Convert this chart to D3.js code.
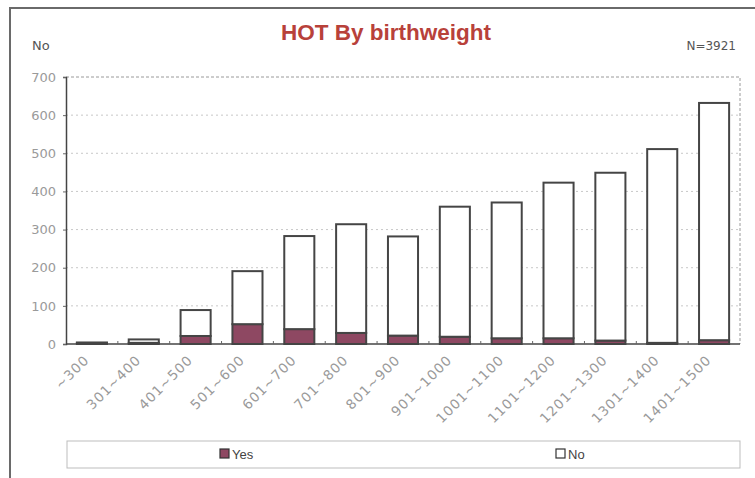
<!DOCTYPE html>
<html><head><meta charset="utf-8">
<script src="https://cdn.jsdelivr.net/npm/d3@7"></script>
<style>body{margin:0;background:#fff}svg{display:block}</style>
</head><body>
<svg id="c" width="755" height="478"></svg>
<script>
const categories = ["~300","301~400","401~500","501~600","601~700","701~800","801~900","901~1000","1001~1100","1101~1200","1201~1300","1301~1400","1401~1500"];
const yesValues = [2,3,21,52,39,29,22,19,15,15,9,3,10];
const noValues  = [2,9,68,139,244,285,260,341,356,408,440,508,622];
const seriesNames = ["Yes","No"];
const yTicks = [0,100,200,300,400,500,600,700];

const svg = d3.select("#c");
const W = 755, H = 478;
const m = {left:66, right:15, top:77, bottom:134};
const x = d3.scaleBand().domain(categories).range([m.left, W - m.right]).paddingInner(0.42).paddingOuter(0.21);
const y = d3.scaleLinear().domain([0,700]).range([H - m.bottom, m.top]);
const colors = {Yes:"#8e4862", No:"#ffffff"};

// outer frame
svg.append("path").attr("d",`M10,${H+5} L10,8 L${W+5},8`).attr("fill","none").attr("stroke","#6a6a6a").attr("stroke-width",2);

// title
svg.append("text").attr("x",386).attr("y",40).attr("text-anchor","middle")
  .attr("font-family","Liberation Sans, Arial, sans-serif").attr("font-weight","bold").attr("font-size",22.5)
  .attr("fill","#b8413a").text("HOT By birthweight");
svg.append("text").attr("x",32).attr("y",50).attr("font-family","DejaVu Sans, Verdana, sans-serif")
  .attr("font-size",13).attr("fill","#555").text("No");
svg.append("text").attr("x",736).attr("y",50).attr("text-anchor","end").attr("font-family","DejaVu Sans, Verdana, sans-serif")
  .attr("font-size",12).attr("fill","#555").text("N=3921");

// grid
const g = svg.append("g");
g.selectAll("line.grid").data(yTicks.filter(d=>d>0 && d<700)).join("line")
  .attr("x1",m.left).attr("x2",W-m.right).attr("y1",d=>y(d)).attr("y2",d=>y(d))
  .attr("stroke","#c8c8c8").attr("stroke-dasharray","2,3");
// top & right dashed border
g.append("path").attr("d",`M${m.left},${y(700)} L${W-m.right},${y(700)} L${W-m.right},${y(0)}`)
  .attr("fill","none").attr("stroke","#9a9a9a").attr("stroke-dasharray","3,2");

// y axis
const yAxis = d3.axisLeft(y).tickValues(yTicks).tickSize(3).tickPadding(7);
const ya = svg.append("g").attr("transform",`translate(${m.left},0)`).call(yAxis);
ya.select(".domain").attr("stroke","#444").attr("stroke-width",1.5);
ya.selectAll(".tick line").attr("stroke","#666");
ya.selectAll("text").attr("font-family","DejaVu Sans, Verdana, sans-serif").attr("font-size",13).attr("fill","#9a9a9a");

// stacked bars
const table = categories.map((c,i)=>({cat:c, Yes:yesValues[i], No:noValues[i]}));
const stack = d3.stack().keys(seriesNames)(table);
svg.append("g").selectAll("g").data(stack).join("g").attr("fill",d=>colors[d.key])
  .selectAll("rect").data(d=>d).join("rect")
  .attr("x",d=>x(d.data.cat)).attr("width",x.bandwidth())
  .attr("y",d=>y(d[1])).attr("height",d=>Math.max(0,y(d[0])-y(d[1])))
  .attr("stroke","#454545").attr("stroke-width",2);

// x axis
const xa = svg.append("g").attr("transform",`translate(0,${y(0)})`);
xa.append("line").attr("x1",m.left).attr("x2",W-m.right).attr("stroke","#444").attr("stroke-width",1.5);
const step = x.step();
xa.selectAll("line.t").data(categories.slice(1)).join("line")
  .attr("x1",d=>x(d)-(step-x.bandwidth())/2).attr("x2",d=>x(d)-(step-x.bandwidth())/2)
  .attr("y1",0).attr("y2",-3).attr("stroke","#666");
xa.selectAll("text").data(categories).join("text")
  .attr("transform",d=>`translate(${x(d)+x.bandwidth()/2-2},17) rotate(-45)`)
  .attr("text-anchor","end").attr("font-family","DejaVu Sans, Verdana, sans-serif")
  .attr("font-size",13.5).attr("letter-spacing",1).attr("fill","#9a9a9a").text(d=>d);

// legend
const lg = svg.append("g");
lg.append("rect").attr("x",67).attr("y",441).attr("width",673).attr("height",27)
  .attr("fill","#fff").attr("stroke","#bdbdbd");
const lx = d3.scalePoint().domain(seriesNames).range([235,571]);
const items = lg.selectAll("g.it").data(seriesNames).join("g").attr("transform",d=>`translate(${lx(d)-15},454)`);
items.append("rect").attr("x",0).attr("y",-5).attr("width",9).attr("height",9)
  .attr("fill",d=>colors[d]).attr("stroke","#333").attr("stroke-width",1.2);
items.append("text").attr("x",12).attr("y",5).attr("font-family","Liberation Sans, Arial, sans-serif")
  .attr("font-size",13).attr("fill","#444").text(d=>d);
</script>
</body></html>
